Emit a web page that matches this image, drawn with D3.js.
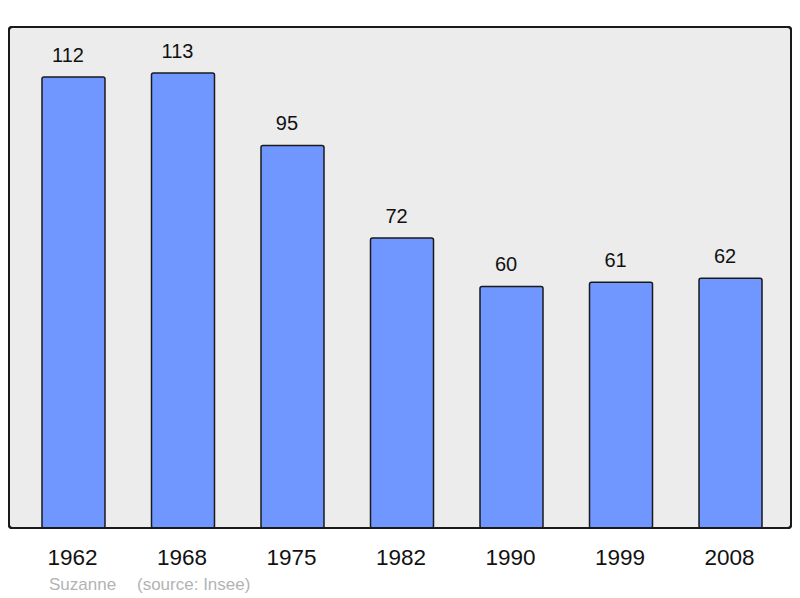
<!DOCTYPE html>
<html><head><meta charset="utf-8">
<script src="https://cdn.jsdelivr.net/npm/d3@7"></script>
<style>body{margin:0;background:#fff}svg{display:block}text{font-family:"Liberation Sans",Arial,sans-serif}</style>
</head><body>
<script>
const years = ["1962","1968","1975","1982","1990","1999","2008"];
const population = [112,113,95,72,60,61,62];
const footerName = "Suzanne";
const footerSource = "(source: Insee)";

const W=800,H=598;
const svg=d3.select("body").append("svg").attr("width",W).attr("height",H);
svg.append("rect").attr("x",9).attr("y",27).attr("width",782).attr("height",501)
  .attr("rx",3).attr("fill","#ececec").attr("stroke","#1a1a1a").attr("stroke-width",2);

const x=d3.scaleBand().domain(years).range([11,793]).paddingInner(0.4247).paddingOuter(0.283);
const y=d3.scaleLinear().domain([0,112]).range([528,77]);

const data=years.map((yr,i)=>({yr,v:population[i]}));
svg.selectAll("rect.bar").data(data).enter().append("rect").attr("class","bar")
  .attr("x",d=>x(d.yr)).attr("y",d=>y(d.v)).attr("width",x.bandwidth()).attr("height",d=>y(0)-y(d.v))
  .attr("rx",2).attr("fill","#7096ff").attr("stroke","#1a1a1a").attr("stroke-width",1.5);

svg.selectAll("text.val").data(data).enter().append("text").attr("class","val")
  .attr("x",d=>x(d.yr)+x.bandwidth()/2-5.5).attr("y",d=>y(d.v)-15)
  .attr("text-anchor","middle").attr("font-size",20).attr("fill","#111").text(d=>d.v);

svg.append("rect").attr("x",9).attr("y",27).attr("width",782).attr("height",501)
  .attr("rx",3).attr("fill","none").attr("stroke","#1a1a1a").attr("stroke-width",2);

const xa=svg.append("g").attr("transform","translate(-1,528)").call(d3.axisBottom(x).tickSize(0).tickPadding(0));
xa.select(".domain").remove();
xa.selectAll("text").attr("font-size",22.5).attr("fill","#111").attr("dy",null).attr("y",37)
  .style("font-family","'Liberation Sans',Arial,sans-serif");

svg.append("text").attr("x",49).attr("y",590).attr("font-size",17).attr("fill","#b3b3b3").text(footerName);
svg.append("text").attr("x",137).attr("y",590).attr("font-size",17).attr("fill","#b3b3b3").text(footerSource);
</script>
</body></html>
